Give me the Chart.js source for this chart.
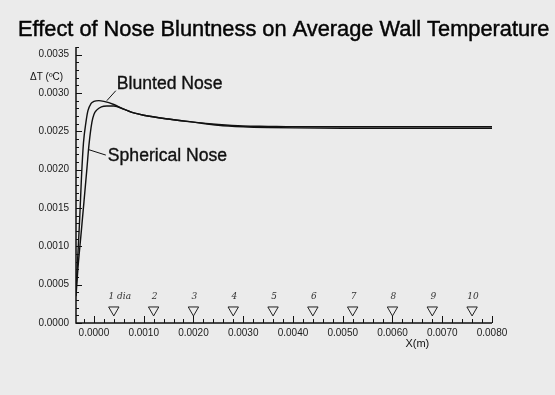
<!DOCTYPE html>
<html>
<head>
<meta charset="utf-8">
<script src="https://cdn.jsdelivr.net/npm/chart.js@4.4.1/dist/chart.umd.min.js"></script>
<style>
  html, body { margin: 0; padding: 0; background: #ebebeb; }
  canvas { display: block; }
</style>
</head>
<body>
<canvas id="c" width="555" height="395"></canvas>
<script>
// ---------------- DATA ----------------
const TITLE = 'Effect of Nose Bluntness on Average Wall Temperature';
const X_TITLE = 'X(m)';
const Y_TITLE = 'ΔT (ºC)';

const BLUNT_X = [-0.00036, -0.00033, -0.00029, -0.00025, -0.00021, -0.00016, -0.00012, -0.00006, 0.00000, 0.00010, 0.00020, 0.00040, 0.00060, 0.00080, 0.00100, 0.00150, 0.00200, 0.00250, 0.00300, 0.00350, 0.00400, 0.00500, 0.00600, 0.00700, 0.00800];
const BLUNT_Y = [0.00040, 0.00080, 0.00130, 0.00190, 0.00235, 0.00262, 0.00277, 0.00286, 0.00289, 0.00290, 0.00289, 0.00285, 0.00279, 0.00274, 0.00271, 0.00266, 0.00262, 0.00259, 0.00257, 0.002565, 0.00256, 0.00256, 0.00256, 0.00256, 0.00256];

const SPHERE_X = [-0.00036, -0.00032, -0.00026, -0.00020, -0.00014, -0.00010, -0.00004, 0.00000, 0.00006, 0.00015, 0.00026, 0.00040, 0.00060, 0.00080, 0.00100, 0.00150, 0.00200, 0.00250, 0.00300, 0.00350, 0.00400, 0.00500, 0.00600, 0.00700, 0.00800];
const SPHERE_Y = [0.00035, 0.00072, 0.00115, 0.00158, 0.00202, 0.00232, 0.00262, 0.00272, 0.00278, 0.00282, 0.00283, 0.00283, 0.00279, 0.00274, 0.00271, 0.00266, 0.00262, 0.00258, 0.00256, 0.00255, 0.002545, 0.00254, 0.00254, 0.00254, 0.00254];

// thermocouple station markers (downward triangles) and their hand-written labels
const STATION_X = [0.0004, 0.0012, 0.0020, 0.0028, 0.0036, 0.0044, 0.0052, 0.0060, 0.0068, 0.0076];
const STATION_Y = 0.00017;
const STATION_LABELS = ['1 dia', '2', '3', '4', '5', '6', '7', '8', '9', '10'];

// axis ticks
const X_MIN = -0.00036, X_MAX = 0.0080;
const Y_MIN = 0, Y_MAX = 0.0036;
const X_TICKS = [0.0000, 0.0010, 0.0020, 0.0030, 0.0040, 0.0050, 0.0060, 0.0070, 0.0080];
const X_TICK_LABELS = ['0.0000', '0.0010', '0.0020', '0.0030', '0.0040', '0.0050', '0.0060', '0.0070', '0.0080'];
const X_MINOR_STEP = 0.0002;
const Y_TICKS = [0.0000, 0.0005, 0.0010, 0.0015, 0.0020, 0.0025, 0.0030, 0.0035];
const Y_TICK_LABELS = ['0.0000', '0.0005', '0.0010', '0.0015', '0.0020', '0.0025', '0.0030', '0.0035'];
const Y_MINOR_STEP = 0.0001;

// curve annotations (text anchor + leader line, in data units)
const NOTES = [
  { text: 'Blunted Nose',   x: 0.00046, y: 0.003056, line: [[0.00044, 0.00303], [0.00026, 0.00290]] },
  { text: 'Spherical Nose', x: 0.00028, y: 0.002116, line: [[0.00024, 0.00219], [-0.00010, 0.00226]] }
];

// ---------------- CHART ----------------
const FONT = "'Liberation Sans', Arial, Helvetica, sans-serif";
const INK = '#111';

const pts = (xs, ys) => xs.map((x, i) => ({ x: x, y: ys[i] }));

const datasets = [
  { label: 'Blunted Nose', data: pts(BLUNT_X, BLUNT_Y), showLine: true, borderColor: INK, borderWidth: 1.4,
    pointRadius: 0, cubicInterpolationMode: 'monotone', fill: false },
  { label: 'Spherical Nose', data: pts(SPHERE_X, SPHERE_Y), showLine: true, borderColor: INK, borderWidth: 1.4,
    pointRadius: 0, cubicInterpolationMode: 'monotone', fill: false },
  { label: 'Stations', data: STATION_X.map(x => ({ x: x, y: STATION_Y })), showLine: false,
    pointStyle: 'triangle', rotation: 180, pointRadius: 6, pointHoverRadius: 6,
    borderColor: '#222', borderWidth: 1, backgroundColor: 'rgba(0,0,0,0)' }
];
NOTES.forEach(n => datasets.push({
  label: n.text + ' leader', data: n.line.map(p => ({ x: p[0], y: p[1] })), showLine: true,
  borderColor: INK, borderWidth: 1, pointRadius: 0, fill: false
}));

function inkText(ctx, txt, x, y, w) {
  ctx.fillText(txt, x, y);
  ctx.lineWidth = w;
  ctx.strokeStyle = ctx.fillStyle;
  ctx.strokeText(txt, x, y);
}

const decorPlugin = {
  id: 'decor',
  beforeDraw(chart) {
    const ctx = chart.ctx;
    ctx.save();
    ctx.fillStyle = '#ebebeb';
    ctx.fillRect(0, 0, chart.width, chart.height);
    ctx.restore();
  },
  afterDraw(chart) {
    const ctx = chart.ctx;
    const xs = chart.scales.x, ys = chart.scales.y;
    const a = chart.chartArea;
    ctx.save();
    // axis lines
    ctx.strokeStyle = INK;
    ctx.lineWidth = 1.5;
    ctx.beginPath();
    ctx.moveTo(a.left, a.top);
    ctx.lineTo(a.left, a.bottom);
    ctx.lineTo(a.right, a.bottom);
    ctx.stroke();
    // inward ticks
    ctx.lineWidth = 1;
    ctx.beginPath();
    const nx = Math.round((X_MAX - 0) / X_MINOR_STEP);
    for (let i = -1; i <= nx; i++) {
      const v = i * X_MINOR_STEP;
      if (v < X_MIN - 1e-12 || v > X_MAX + 1e-12) continue;
      const major = X_TICKS.some(t => Math.abs(t - v) < 1e-9);
      const px = Math.round(xs.getPixelForValue(v)) + 0.5;
      ctx.moveTo(px, a.bottom);
      ctx.lineTo(px, a.bottom - (major ? 7 : 4));
    }
    const ny = Math.round((Y_MAX - Y_MIN) / Y_MINOR_STEP);
    for (let i = 0; i <= ny; i++) {
      const v = Y_MIN + i * Y_MINOR_STEP;
      const major = Y_TICKS.some(t => Math.abs(t - v) < 1e-9);
      const py = Math.round(ys.getPixelForValue(v)) + 0.5;
      ctx.moveTo(a.left, py);
      ctx.lineTo(a.left + (major ? 6 : 3), py);
    }
    ctx.stroke();

    // title
    ctx.fillStyle = '#050505';
    ctx.font = '21.8px ' + FONT;
    ctx.textAlign = 'left';
    ctx.textBaseline = 'alphabetic';
    inkText(ctx, TITLE, 18, 36, 0.45);

    // axis titles
    ctx.fillStyle = INK;
    ctx.font = '10px ' + FONT;
    ctx.textBaseline = 'middle';
    ctx.fillText(Y_TITLE, 30, 77);
    ctx.font = '11px ' + FONT;
    ctx.textAlign = 'center';
    ctx.fillText(X_TITLE, (xs.getPixelForValue(0.0064) + xs.getPixelForValue(0.0066)) / 2, 344);

    // annotations
    ctx.font = '17.6px ' + FONT;
    ctx.textAlign = 'left';
    ctx.textBaseline = 'alphabetic';
    NOTES.forEach(n => inkText(ctx, n.text, xs.getPixelForValue(n.x), ys.getPixelForValue(n.y), 0.35));

    // station labels (hand-written look)
    ctx.font = 'italic 9px "DejaVu Serif", serif';
    ctx.fillStyle = '#333';
    ctx.textAlign = 'center';
    ctx.textBaseline = 'middle';
    STATION_X.forEach((x, i) => {
      const px = xs.getPixelForValue(x) + (i === 0 ? 6 : 1);
      const py = ys.getPixelForValue(STATION_Y) - 13;
      ctx.fillText(STATION_LABELS[i], px, py);
    });
    ctx.restore();
  }
};

new Chart(document.getElementById('c'), {
  type: 'scatter',
  data: { datasets: datasets },
  options: {
    responsive: false,
    animation: false,
    events: [],
    layout: { padding: { top: 47, right: 63, bottom: 0, left: 0 } },
    plugins: { legend: { display: false }, tooltip: { enabled: false }, title: { display: false } },
    scales: {
      x: {
        type: 'linear', min: X_MIN, max: X_MAX,
        grid: { display: false, drawTicks: false },
        border: { display: false },
        afterBuildTicks: s => { s.ticks = X_TICKS.map(v => ({ value: v })); },
        afterFit: s => { s.height = 72; },
        ticks: {
          autoSkip: false, maxRotation: 0, padding: 4,
          color: '#1a1a1a', font: { family: FONT, size: 10 },
          callback: (v, i) => X_TICK_LABELS[i]
        }
      },
      y: {
        type: 'linear', min: Y_MIN, max: Y_MAX,
        grid: { display: false, drawTicks: false },
        border: { display: false },
        afterBuildTicks: s => { s.ticks = Y_TICKS.map(v => ({ value: v })); },
        afterFit: s => { s.width = 76; },
        ticks: {
          autoSkip: false, padding: 7,
          color: '#1a1a1a', font: { family: FONT, size: 10 },
          callback: (v, i) => Y_TICK_LABELS[i]
        }
      }
    }
  },
  plugins: [decorPlugin]
});
</script>
</body>
</html>
